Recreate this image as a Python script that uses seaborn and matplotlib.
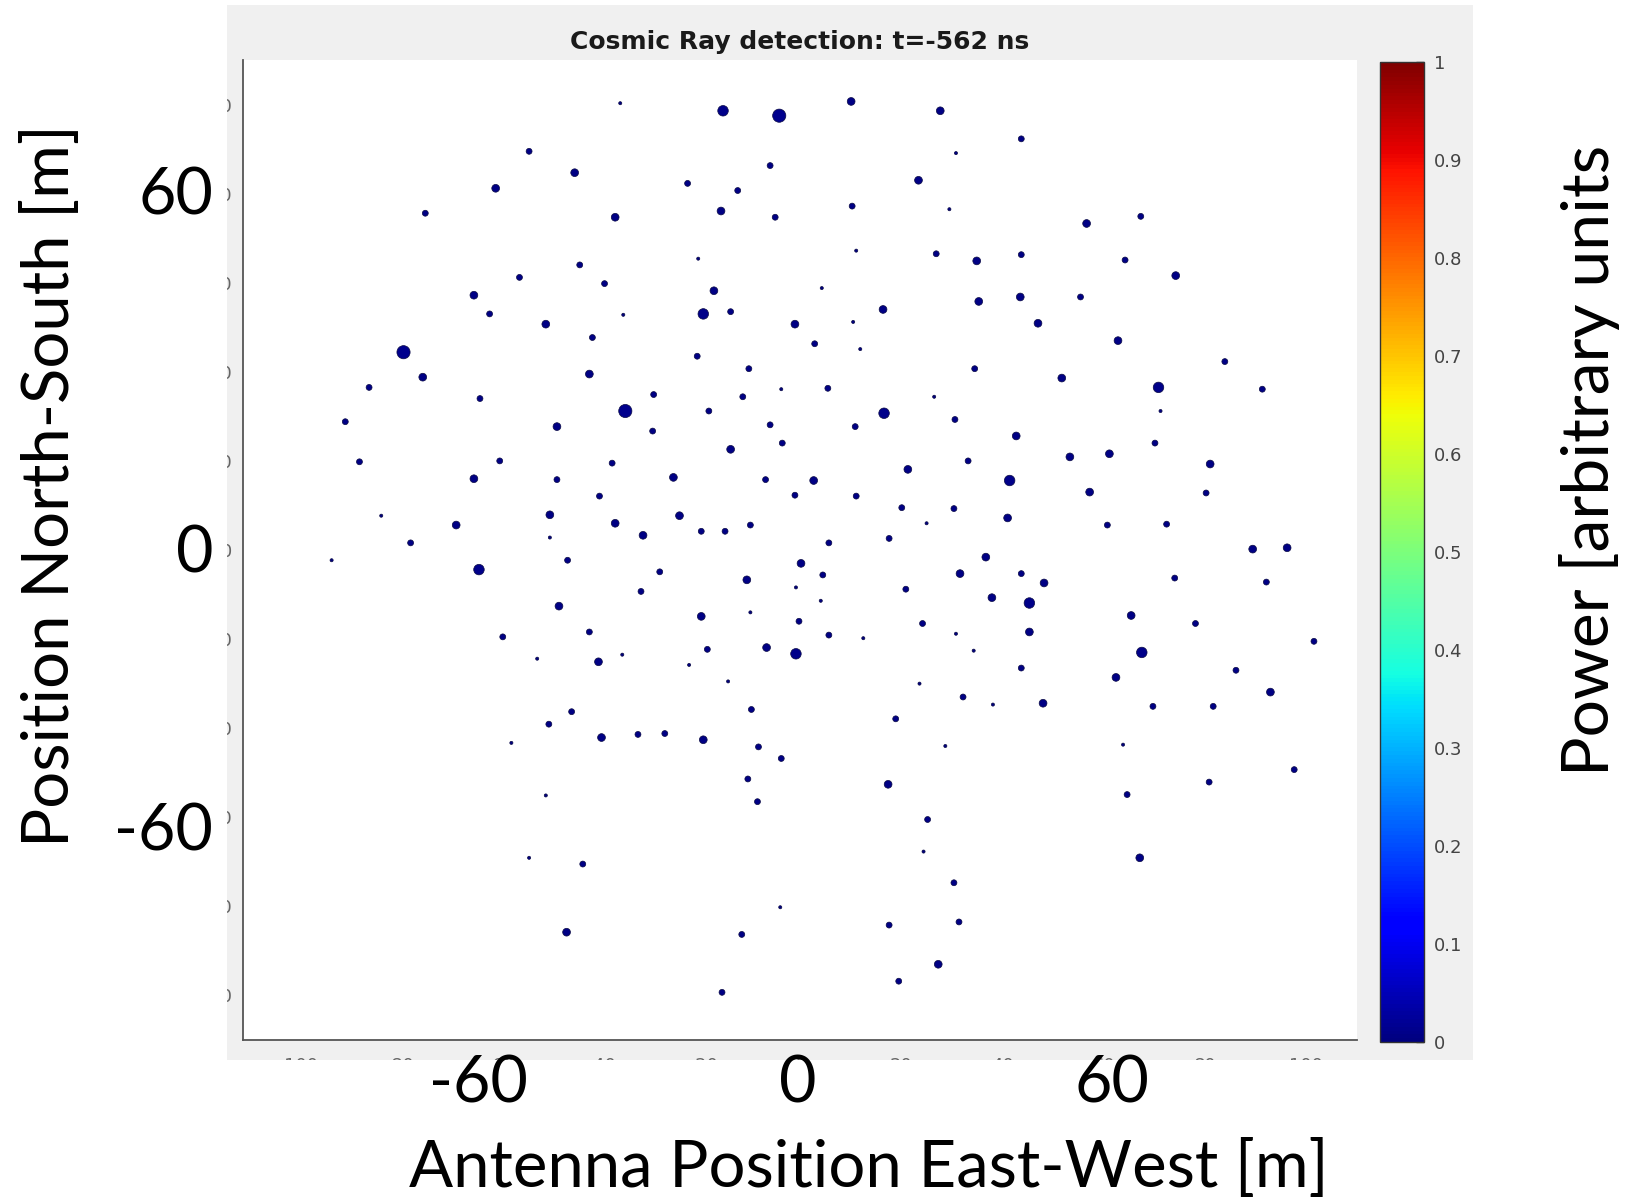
import numpy as np
import pandas as pd
import matplotlib
matplotlib.use("Agg")
import matplotlib.pyplot as plt
import matplotlib.colors as mcolors
import matplotlib.cm as cm
from matplotlib.patches import Rectangle
import seaborn as sns

# antenna positions [m] and received power
east_west = [-35.5, -15.2, -4.1, 10.1, 27.7, 43.7, 30.8, -53.5, -44.5, -5.9,
             -22.2, -12.3, 23.4, -60.1, -36.5, -15.6, -4.9, 10.3, 29.5, 56.6,
             67.3, -74.0, 11.1, -20.1, 26.9, 34.9, 43.7, -43.5, -55.4, 64.2,
             74.2, -38.6, 4.3, -17.0, -64.4, -61.3, 35.3, 43.5, 55.4, -19.1,
             -13.7, 16.4, -34.9, -50.2, -1.0, 47.0, 62.8, -41.0, 2.9, 10.5,
             -78.3, -20.3, 11.9, 83.9, -10.1, -41.6, -74.5, 34.5, 51.7, -85.1,
             70.8, -63.2, -28.9, -11.3, 5.5, 26.5, 91.3, -34.5, -18.0, 16.6,
             71.2, -89.8, -48.0, -29.1, -5.9, 10.9, -3.5, 30.6, 42.7, 70.1,
             -13.7, -37.1, -59.3, -87.0, 33.2, 53.3, 61.1, 81.0, 21.3, -25.0,
             -6.8, 2.7, -64.4, -48.0, 41.4, 57.2, -39.6, 11.1, 80.2, 30.4,
             -49.4, -23.8, 41.0, -82.7, -67.9, -36.5, -19.5, -14.8, -9.8, 20.1,
             60.7, 72.4, -31.0, 17.6, -76.9, 5.7, 89.4, 96.2, -92.5, -45.9,
             0.2, -63.4, 31.6, 36.7, 43.7, 48.2, -10.5, 74.0, 92.1, -31.4,
             -0.8, 20.9, 4.1, 37.9, 45.3, -47.6, -9.8, -19.5, -0.2, 65.4,
             78.1, 24.2, -41.6, 5.7, 30.8, 45.3, -58.7, 12.5, 101.5, -6.6,
             -18.3, -0.8, -39.8, 67.5, -51.9, -35.1, 34.3, -21.9, 43.7, 86.1,
             62.4, -14.2, 23.6, 92.9, -3.7, 48.0, 81.6, 32.2, -9.6, -45.1,
             69.7, 38.1, 18.9, -49.6, -39.2, -32.0, -26.7, -19.1, -57.0, -8.2,
             28.7, 63.8, 97.6, -10.3, 17.4, 80.8, -50.2, -8.4, 64.6, 25.2,
             -53.5, -42.9, 24.4, 67.1, 30.4, -3.9, -46.1, -11.5, 17.6, 31.4,
             27.3, 19.5, -15.4, -3.7, -1.0, -49.4, 25.0, -27.7, 4.5]

north_south = [100.3, 98.6, 97.5, 100.7, 98.6, 92.3, 89.1, 89.5, 84.7, 86.3,
               82.3, 80.7, 83.0, 81.2, 74.7, 76.1, 74.7, 77.2, 76.5, 73.3,
               74.9, 75.6, 67.2, 65.4, 66.5, 64.9, 66.3, 64.0, 61.2, 65.1,
               61.6, 59.8, 58.8, 58.2, 57.2, 53.0, 55.8, 56.8, 56.8, 53.0,
               53.5, 54.0, 52.8, 50.7, 50.7, 50.9, 47.0, 47.7, 46.3, 51.2,
               44.4, 43.5, 45.1, 42.3, 40.7, 39.5, 38.8, 40.7, 38.6, 36.5,
               36.5, 34.0, 34.9, 34.4, 36.3, 34.4, 36.1, 31.2, 31.2, 30.7,
               31.2, 28.8, 27.7, 26.7, 28.1, 27.7, 24.0, 29.3, 25.6, 24.0,
               22.6, 19.5, 20.0, 19.8, 20.0, 20.9, 21.6, 19.3, 18.1, 16.3,
               15.8, 15.6, 16.0, 15.8, 15.6, 13.0, 12.1, 12.1, 12.8, 9.3,
               7.9, 7.7, 7.2, 7.7, 5.6, 6.0, 4.2, 4.2, 5.6, 9.5,
               5.6, 5.8, 3.3, 2.6, 1.6, 1.6, 0.2, 0.5, -2.3, -2.3,
               -3.0, -4.4, -5.3, -1.6, -5.3, -7.4, -6.7, -6.3, -7.2, -9.3,
               -8.4, -8.8, -11.4, -10.7, -11.9, -12.6, -14.0, -14.9, -16.0, -14.7,
               -16.5, -16.5, -18.4, -19.1, -18.8, -18.4, -19.5, -19.8, -20.5, -21.9,
               -22.3, -23.3, -25.1, -23.0, -24.4, -23.5, -22.6, -25.8, -26.5, -27.0,
               -28.6, -29.5, -30.0, -31.9, -46.8, -34.4, -35.1, -33.0, -35.8, -36.3,
               -35.1, -34.7, -37.9, -39.1, -42.1, -41.4, -41.2, -42.6, -43.3, -44.2,
               -44.0, -43.7, -49.3, -51.4, -52.6, -52.1, -55.1, -56.5, -54.9, -60.5,
               -69.1, -70.5, -67.7, -69.1, -74.7, -80.2, -85.8, -86.3, -84.2, -83.5,
               -93.0, -96.8, -99.3, 36.1, 12.3, 2.8, 6.0, -4.9, -5.6]

power = [0.002, 0.010, 0.015, 0.006, 0.006, 0.004, 0.002, 0.004, 0.006, 0.004,
         0.004, 0.004, 0.006, 0.006, 0.006, 0.006, 0.004, 0.004, 0.002, 0.006,
         0.004, 0.004, 0.002, 0.002, 0.004, 0.006, 0.004, 0.004, 0.004, 0.004,
         0.006, 0.004, 0.002, 0.006, 0.006, 0.004, 0.006, 0.006, 0.004, 0.010,
         0.004, 0.006, 0.002, 0.006, 0.006, 0.006, 0.006, 0.004, 0.004, 0.002,
         0.015, 0.004, 0.002, 0.004, 0.004, 0.006, 0.006, 0.004, 0.006, 0.004,
         0.010, 0.004, 0.004, 0.004, 0.004, 0.002, 0.004, 0.015, 0.004, 0.010,
         0.002, 0.004, 0.006, 0.004, 0.004, 0.004, 0.004, 0.004, 0.006, 0.004,
         0.006, 0.004, 0.004, 0.004, 0.004, 0.006, 0.006, 0.006, 0.006, 0.006,
         0.004, 0.006, 0.006, 0.004, 0.010, 0.006, 0.004, 0.004, 0.004, 0.004,
         0.006, 0.006, 0.006, 0.002, 0.006, 0.006, 0.004, 0.004, 0.004, 0.004,
         0.004, 0.004, 0.006, 0.004, 0.004, 0.004, 0.006, 0.006, 0.002, 0.004,
         0.006, 0.010, 0.006, 0.006, 0.004, 0.006, 0.006, 0.004, 0.004, 0.004,
         0.002, 0.004, 0.002, 0.006, 0.010, 0.006, 0.002, 0.006, 0.004, 0.006,
         0.004, 0.004, 0.004, 0.004, 0.002, 0.006, 0.004, 0.002, 0.004, 0.006,
         0.004, 0.010, 0.006, 0.010, 0.002, 0.002, 0.002, 0.002, 0.004, 0.004,
         0.006, 0.002, 0.002, 0.006, 0.004, 0.006, 0.004, 0.004, 0.004, 0.004,
         0.004, 0.002, 0.004, 0.004, 0.006, 0.004, 0.004, 0.006, 0.002, 0.004,
         0.002, 0.002, 0.004, 0.004, 0.006, 0.004, 0.002, 0.004, 0.004, 0.004,
         0.002, 0.004, 0.002, 0.006, 0.004, 0.002, 0.006, 0.004, 0.004, 0.004,
         0.006, 0.004, 0.004, 0.002, 0.004, 0.002, 0.002, 0.004, 0.004]

inner_ticks = np.arange(-100, 101, 20)
cbar_ticks = np.round(np.arange(0, 1.01, 0.1), 1)
big_xticks = ["-60", "0", "60"]
big_yticks = ["60", "0", "-60"]

df = pd.DataFrame({"ew": east_west, "ns": north_south, "power": power})

sns.set_style("white")
plt.rcParams["font.family"] = ["DejaVu Sans"]

jet = matplotlib.colormaps["jet"]

W, H = 1630, 1200
fig = plt.figure(figsize=(16.3, 12), dpi=100)


def fx(px):
    return px / W


def fy(py):
    return 1 - py / H


# grey matlab figure panel behind everything
fig.add_artist(Rectangle((fx(227), fy(1060)), fx(1473) - fx(227), fy(5) - fy(1060),
                         transform=fig.transFigure, facecolor="#f0f0f0",
                         edgecolor="none", zorder=-1))

ax = fig.add_axes([fx(243), fy(1040), fx(1357) - fx(243), fy(60) - fy(1040)])
ax.set_facecolor("white")
sns.scatterplot(data=df, x="ew", y="ns", hue="power", size="power",
                palette=jet, hue_norm=(0, 1), sizes=(5, 90),
                size_norm=(0.002, 0.015), edgecolor="#0b0b45", linewidth=0.5,
                legend=False, ax=ax)
ax.set_xlim(-110, 110)
ax.set_ylim(-110, 110)
ax.set_xticks(inner_ticks)
ax.set_yticks(inner_ticks)
ax.tick_params(direction="in", length=7, width=1.1, color="#444444",
               labelsize=13, labelcolor="#666666")
ax.tick_params(axis="x", pad=12)
ax.tick_params(axis="y", pad=8)
ax.set_xlabel("")
ax.set_ylabel("")
for s in ["top", "right"]:
    ax.spines[s].set_visible(False)
for s in ["left", "bottom"]:
    ax.spines[s].set_color("#555555")
    ax.spines[s].set_linewidth(1.3)
ax.set_title("Cosmic Ray detection: t=-562 ns", fontweight="bold",
             fontsize=18, pad=8, color="#1a1a1a")

# colorbar
cax = fig.add_axes([fx(1380), fy(1042), fx(1424) - fx(1380), fy(62) - fy(1042)])
sm = cm.ScalarMappable(norm=mcolors.Normalize(0, 1), cmap=jet)
cb = fig.colorbar(sm, cax=cax, ticks=cbar_ticks)
cb.set_ticklabels([f"{t:g}" for t in cbar_ticks])
cb.ax.tick_params(direction="in", length=6, width=1, color="#333333",
                  labelsize=13, labelcolor="#444444", pad=7)
cb.outline.set_edgecolor("#333333")
cb.outline.set_linewidth(1)

# white margins around the panel (hide the cut off small labels)
for (x0, y0, x1, y1) in [(0, 0, 227, 1200), (0, 1060, 1630, 1200),
                         (1473, 0, 1630, 1200), (0, 0, 1630, 5)]:
    fig.add_artist(Rectangle((fx(x0), fy(y1)), fx(x1) - fx(x0), fy(y0) - fy(y1),
                             transform=fig.transFigure, facecolor="white",
                             edgecolor="none", zorder=5))

big = dict(family=["Lato", "DejaVu Sans"], color="black", zorder=6)
fig.text(fx(869), fy(1168), "Antenna Position East-West [m]", ha="center",
         va="center", fontsize=47, **big)
for lab, px in zip(big_xticks, [478, 798, 1112]):
    fig.text(fx(px), fy(1084), lab, ha="center", va="center", fontsize=46.5, **big)
for lab, py in zip(big_yticks, [196, 554, 832]):
    fig.text(fx(213), fy(py), lab, ha="right", va="center", fontsize=46.5, **big)
fig.text(fx(50), fy(486), "Position North-South [m]", rotation=90,
         ha="center", va="center", fontsize=47, **big)
fig.text(fx(1590), fy(460), "Power [arbitrary units", rotation=90,
         ha="center", va="center", fontsize=47.5, **big)

fig.savefig("out.png", dpi=100)
